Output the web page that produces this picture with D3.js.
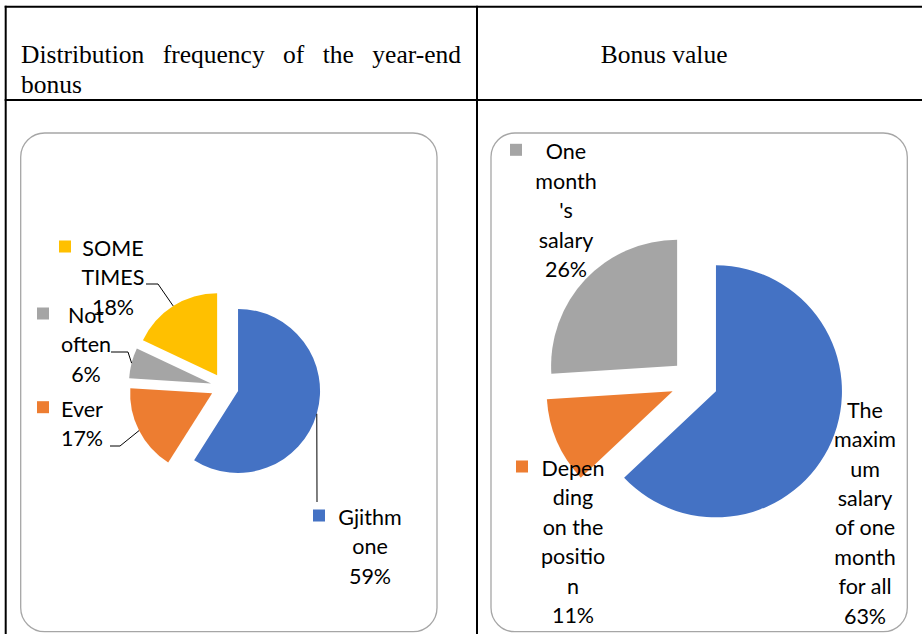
<!DOCTYPE html>
<html>
<head>
<meta charset="utf-8">
<script src="https://cdn.jsdelivr.net/npm/d3@7"></script>
<style>
  body { margin: 0; background: #fff; }
  svg { display: block; }
</style>
</head>
<body>
<svg id="chart" width="922" height="634"></svg>
<script>
// Data
const headerLeft = ["Distribution", "frequency", "of", "the", "year-end"];
const headerLeft2 = "bonus";
const headerRight = "Bonus value";

const freqCategories = ["Gjithm one", "Ever", "Not often", "SOME TIMES"];
const freqValues = [59, 17, 6, 18];
const freqWraps = [["Gjithm", "one"], ["Ever"], ["Not", "often"], ["SOME", "TIMES"]];
const freqColors = ["#4472C4", "#ED7D31", "#A5A5A5", "#FFC000"];

const bonusCategories = ["The maximum salary of one month for all", "Depending on the position", "One month's salary"];
const bonusValues = [63, 11, 26];
const bonusWraps = [
  ["The", "maxim", "um", "salary", "of one", "month", "for all"],
  ["Depen", "ding", "on the", "positio", "n"],
  ["One", "month", "'s", "salary"]
];
const bonusColors = ["#4472C4", "#ED7D31", "#A5A5A5"];

// Layout
const svg = d3.select("#chart");
const lineH = 29.4;
const labelFont = "Lato, 'Open Sans', sans-serif";

// table grid
const grid = svg.append("g").attr("stroke", "#000").attr("stroke-width", 2);
grid.append("line").attr("x1", 4.7).attr("x2", 922).attr("y1", 6.8).attr("y2", 6.8);
grid.append("line").attr("x1", 4.7).attr("x2", 922).attr("y1", 100).attr("y2", 100);
grid.append("line").attr("x1", 5.7).attr("x2", 5.7).attr("y1", 5.8).attr("y2", 634);
grid.append("line").attr("x1", 477).attr("x2", 477).attr("y1", 5.8).attr("y2", 634);

// header text (first line justified)
const hdr = svg.append("g")
  .attr("font-family", "'Liberation Serif', 'Times New Roman', serif")
  .attr("font-size", 25.5)
  .attr("fill", "#000");

const words = hdr.selectAll("text.w")
  .data(headerLeft)
  .join("text")
  .attr("class", "w")
  .attr("y", 63.3)
  .text(d => d);
const widths = [];
words.each(function () { widths.push(this.getComputedTextLength()); });
const x0 = 21, x1 = 461;
const gap = (x1 - x0 - d3.sum(widths)) / (headerLeft.length - 1);
let cursor = x0;
words.attr("x", (d, i) => { const x = cursor; cursor += widths[i] + gap; return x; });

hdr.append("text").attr("x", 21).attr("y", 93.3).text(headerLeft2);
hdr.append("text").attr("x", 600.7).attr("y", 63.3).text(headerRight);

// chart boxes
[[20.7, 133], [491, 133]].forEach(([x, y]) => {
  svg.append("rect")
    .attr("x", x).attr("y", y)
    .attr("width", 416.3).attr("height", 498.7)
    .attr("rx", 24).attr("ry", 24)
    .attr("fill", "#fff")
    .attr("stroke", "#a6a6a6")
    .attr("stroke-width", 1.3);
});

function drawPie(opts) {
  const { cx, cy, r, explode, values, colors, wraps, layout } = opts;
  const pie = d3.pie().sort(null)(values);
  const arc = d3.arc().innerRadius(0).outerRadius(r);
  const edge = d3.arc().innerRadius(r).outerRadius(r);
  const offset = d => {
    const a = (d.startAngle + d.endAngle) / 2;
    return [Math.sin(a) * explode, -Math.cos(a) * explode];
  };

  const g = svg.append("g").attr("transform", `translate(${cx},${cy})`);
  g.selectAll("path.slice")
    .data(pie)
    .join("path")
    .attr("class", "slice")
    .attr("fill", (d, i) => colors[i])
    .attr("transform", d => `translate(${offset(d)})`)
    .attr("d", arc);

  // leader lines
  pie.forEach((d, i) => {
    const L = layout[i];
    if (!L.leader) return;
    const [ox, oy] = offset(d);
    const [ex, ey] = edge.centroid(d);
    const pts = L.leader.concat([[cx + ox + ex, cy + oy + ey]]);
    svg.append("path")
      .attr("fill", "none")
      .attr("stroke", "#000")
      .attr("stroke-width", 1)
      .attr("d", d3.line()(pts));
  });

  // labels
  pie.forEach((d, i) => {
    const L = layout[i];
    const lines = wraps[i].concat([`${values[i]}%`]);
    if (L.keyX != null) {
      svg.append("rect")
        .attr("x", L.keyX).attr("y", L.y - 15.5)
        .attr("width", 12).attr("height", 12)
        .attr("fill", colors[i]);
    }
    const t = svg.append("text")
      .attr("font-family", labelFont)
      .attr("font-size", 21.5)
      .attr("fill", "#000")
      .attr("text-anchor", "middle");
    lines.forEach((s, k) => {
      t.append("tspan").attr("x", L.cx).attr("y", L.y + k * lineH).text(s);
    });
  });
}

drawPie({
  cx: 224.6, cy: 387, r: 82, explode: 14,
  values: freqValues, colors: freqColors, wraps: freqWraps,
  layout: [
    { cx: 370, y: 525, keyX: 313, leader: [[317, 502]] },
    { cx: 82, y: 416.7, keyX: 37, leader: [[110, 446], [120, 446]] },
    { cx: 86, y: 323, keyX: 37, leader: [[111, 352], [128, 352]] },
    { cx: 113, y: 256, keyX: 59, leader: [[146, 284], [158, 284]] }
  ]
});

drawPie({
  cx: 694.3, cy: 382, r: 126, explode: 23.6,
  values: bonusValues, colors: bonusColors, wraps: bonusWraps,
  layout: [
    { cx: 865, y: 417.7 },
    { cx: 573, y: 476, keyX: 516 },
    { cx: 566, y: 159.3, keyX: 510 }
  ]
});
</script>
</body>
</html>
